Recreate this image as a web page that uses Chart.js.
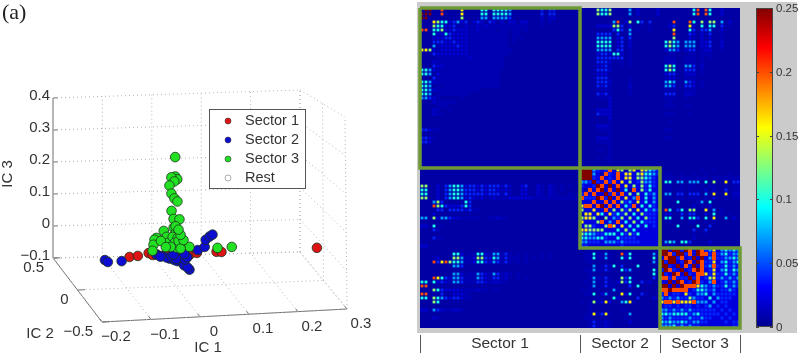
<!DOCTYPE html>
<html>
<head>
<meta charset="utf-8">
<title>Sector scatter and correlation matrix</title>
<script src="https://cdn.jsdelivr.net/npm/chart.js@4"></script>
<style>
  html, body { margin: 0; padding: 0; background: #fff; overflow: hidden; }
  #page { position: relative; width: 800px; height: 356px; }
  #grayPanel { position: absolute; left: 417px; top: 2px; width: 380px; height: 331px; background: #cbcbcb; }
  canvas { position: absolute; top: 0; }
  #scatterCanvas { left: 0; }
  #matrixCanvas { left: 415px; filter: blur(0.6px); }
  #barCanvas { left: 415px; }
</style>
</head>
<body>
<div id="page">
  <div id="grayPanel"></div>
  <canvas id="scatterCanvas" width="410" height="356"></canvas>
  <canvas id="matrixCanvas" width="385" height="356"></canvas>
  <canvas id="barCanvas" width="385" height="356"></canvas>
</div>
<script>
// ---- panel (a): IC values
const ic1Ticks = [-0.2, -0.1, 0, 0.1, 0.2, 0.3];
const ic2Ticks = [-0.5, 0, 0.5];
const ic3Ticks = [-0.1, 0, 0.1, 0.2, 0.3, 0.4];

const sector1Ic1 = [-0.094, -0.077, -0.055, -0.047, -0.037, -0.018, 0.014, 0.028, 0.043, 0.083, 0.093, 0.287];
const sector1Ic2 = [0, 0, 0, 0, 0, 0, 0, 0, 0, 0, 0, 0];
const sector1Ic3 = [-0.012, -0.010, -0.003, -0.009, -0.009, -0.005, -0.009, -0.013, -0.008, -0.007, -0.008, -0.007];

const sector2Ic1 = [-0.144, -0.138, -0.110, -0.044, -0.036, -0.025, -0.018, -0.014, -0.007, -0.008, -0.005, -0.005, 0.006, 0.005, -0.002, -0.029, -0.017, 0.045, 0.059, 0.061, 0.069, 0.075, -0.012, 0.004, 0.012, -0.040, -0.010, 0.012];
const sector2Ic2 = [0, 0, 0, -0.05, -0.08, -0.13, -0.16, -0.18, -0.21, -0.26, -0.34, -0.30, -0.08, -0.03, 0, -0.11, -0.09, 0, 0, 0, 0, 0, -0.14, -0.16, -0.12, -0.09, -0.06, -0.06];
const sector2Ic3 = [-0.018, -0.024, -0.023, 0, 0, 0, 0, 0, 0, 0, 0, 0, 0, 0, 0.003, 0, 0, 0, 0.008, 0.028, 0.037, 0.042, 0, 0, 0, 0, 0, 0];

const sector3Ic1 = [0, 0, 0.004, -0.008, -0.002, -0.012, -0.008, -0.002, 0.004, -0.008, -0.004, 0.008, -0.004, 0, -0.024, -0.039, -0.043, -0.045, -0.047, -0.018, -0.016, -0.006, 0.004, -0.002, 0.012, 0.002, 0.028, 0.085, 0.114, 0.006, -0.010, 0.010, 0.016, -0.030, -0.020, 0.010, 0, 0.006];
const sector3Ic2 = [0, 0, 0, 0, 0, 0, 0, 0, 0, 0, 0, 0, 0, 0, 0, 0, 0, 0, 0, 0, 0, 0, 0, 0, 0, 0, 0, 0, 0, 0, 0, 0, 0, 0, 0, 0, 0, 0];
const sector3Ic3 = [0.266, 0.211, 0.203, 0.209, 0.197, 0.186, 0.163, 0.149, 0.140, 0.114, 0.091, 0.089, 0.066, 0.051, 0.058, 0.039, 0.034, 0.020, 0.003, 0.041, 0.024, 0.040, 0.037, 0.023, 0.017, 0.009, 0.010, 0.004, 0.005, 0.028, 0.012, 0.006, 0.030, 0.030, 0.012, 0.045, 0.070, 0.060];

const legendLabels = ['Sector 1', 'Sector 2', 'Sector 3', 'Rest'];
const legendColors = ['#dc1414', '#0c0cd2', '#22e022', '#ffffff'];

// ---- panel (b): matrix levels, upper triangle, "sector 1|sector 2|sector 3" columns
const sectorNames = ['Sector 1', 'Sector 2', 'Sector 3'];
const sectorEdges = [0, 40, 60, 80];
const levelValues = [0.006, 0.01, 0.022, 0.04, 0.07, 0.1, 0.13, 0.16, 0.2, 0.25];
const colorbarTicks = [0, 0.05, 0.1, 0.15, 0.2, 0.25];
const matrixRows = [
  '0990080000 7000055055 5540000000 3033000000|00006 55600 00402 00002|00000 00058 08500 20000',
  '0990080000 7000055055 5540000000 3033000000|00006 55600 00402 00002|00000 00058 08500 20000',
  '0000000000 6000044044 4430000000 2022000000||',
  '0007655234 2302320320 2022022000 1010000000|00000 00048 02605 30300|00180 00850 61660 40200',
  '0000552231 1211212111 1111111000 1000000000|00002 22266 30200 10100|00230 00720 50550 30100',
  '0000062232 2211211110 1101101000|00000 00035 30401 00100|00070 00530 33400 20000',
  '0000005322 2211111111 1101100000|00003 33303 00400 00000|00080 00320 20300 10000',
  '0000000322 2211111111 1101010000|00004 44402 30300 00000|00060 00210 20200 10000',
  '0000000032 2211111111 1101000000|00005 55502 30200 00000|05654 04440 22300 20000',
  '0000000003 2211111111 1100000000|00005 55502 30200 00000|05654 04440 22300 20000',
  '0000000000 2211111111 1110000000|00004 44403 30100|02443 02330 12200 10000',
  '0000000000 0211111111 1100000000|00002 33255 20100|00110 00110 11100',
  '0000000000 0021111111 1000000000|00003 33333 30100|01110 01110 10100',
  '0000000000 0001111111 1000000000|00003 33200 10100|01220 01110 10000',
  '0000000000 0000111111 1000000000|00002 23100 10100|05650 04430 20000',
  '0000000000 0000011111 0000000000|00003 33200|05650 03330 10000',
  '0000000000 0000001111 0000000000|00002 22000|02330 02220 10000',
  '0000000000 0000000111 0000000000|00003 33100 00100|01220 01110',
  '0000000000 0000000011|00003 33200 00100|04540 04320 10000',
  '0000000000 0000000001|00003 23100 00200|04430 03320 10000',
  '|00001 11100 00100|01110 01110',
  '|00003 23100 00100|03330 02210',
  '|00001 11200|01110 01000',
  '|00000 00200|00100',
  '|00000 00200|01110 01100',
  '|00002 22200|',
  '|00003 22200|01110 00100',
  '|00000 00200|',
  '|00000 00100|00100',
  '|00002 22100|',
  '|00001 11100|01100',
  '|00000 00100|',
  '|00002 22100|01100',
  '|00001 11100|',
  '|00000 00100|',
  '|00001 10100|',
  '|00000 00100|',
  '|00001 01100|',
  '|00000 00100|',
  '|00000 00000|',
  '|99943 23827 61672 76543|00000 00000 10010 00000',
  '|99942 18328 27726 75543|01100 10010 01000 00100',
  '|09932 82328 27726 65432|11110 11101 11011 11111',
  '|00093 28382 72623 64432|05504 40444 05060 07033',
  '|00009 82928 27262 63532|01100 10110 10110 01011',
  '|00000 92829 25182 63522|01101 10101 02020 03011',
  '|00000 09382 82626 25342|04403 30333 04070 07022',
  '|00000 00928 27248 25242|01101 10111 01020 01011',
  '|00000 00082 63427 25242|00005 00001 40500 00000',
  '|00000 00008 25382 52532|00000 00020 10200',
  '|00000 00000 63627 25343|08503 50660 07040 10000',
  '|00000 00000 06252 63332|02200 30330 02050 10100',
  '|00000 00000 00625 26332|05500 40553 05070 04020',
  '|00000 00000 00062 53332|00100 00110 01010',
  '|00000 00000 00005 25232|00005 00005 00300',
  '|00000 42322|00000 00030 03000',
  '|00000 05232|00000 00010 01000',
  '|00000 00422|00000 00020 00000',
  '|00000 00042|04540 55300 00200',
  '|00000 00003|01110',
  '||99299 39829 83472 45454',
  '||09839 93829 88383 45344',
  '||00993 82392 92483 34454',
  '||00092 39829 83372 45345',
  '||00009 28392 83483 35343',
  '||00000 92389 82372 45354',
  '||00000 09328 87373 35343',
  '||00000 00938 23673 43434',
  '||00000 00098 32482 34343',
  '||00000 00007 54343 35343',
  '||00000 00000 54342 33432',
  '||00000 00000 05243 33332',
  '||00000 00000 00524 33322',
  '||00000 00000 00042 33222',
  '||00000 00000 00003 23222',
  '||00000 00000 00000 32322',
  '||00000 00000 00000 03232',
  '||00000 00000 00000 00322',
  '||00000 00000 00000 00033',
  '||00000 00000 00000 00003'
];

// jet colormap anchors: position, r, g, b
const jetStops = [[0, 0, 0, 0.56], [0.125, 0, 0, 1], [0.375, 0, 1, 1], [0.625, 1, 1, 0], [0.875, 1, 0, 0], [1, 0.5, 0, 0]];

const FONT = '"Liberation Sans", Arial, sans-serif';
const TEXT_COLOR = '#333';
const GRID_COLOR = '#b4b4b4';
const AXIS_COLOR = '#6e6e6e';
const BOX_GREEN = '#6d9a34';

// ---- box corners of the 3D view in canvas pixels: [floor, top] for back and front edges
const boxBack = { floor: [[53, 258], [300, 252]], top: [[53, 98], [300, 90]] };
const boxFront = { floor: [[102, 322], [347, 309]], top: [[100, 130], [345, 117]] };

function lerp(a, b, t) { return a + (b - a) * t; }

// IC1, IC2, IC3 -> plotted point, interpolated between the box corners
function project(ic1, ic2, ic3) {
  const u = (ic1 + 0.2) / 0.5;
  const v = 0.5 - ic2;
  const w = (ic3 + 0.1) / 0.5;
  const pick = (edge, axis) => lerp(edge[0][axis], edge[1][axis], u);
  const axisValue = axis => lerp(
    lerp(pick(boxBack.floor, axis), pick(boxBack.top, axis), w),
    lerp(pick(boxFront.floor, axis), pick(boxFront.top, axis), w), v);
  return { x: axisValue(0), y: axisValue(1) };
}

function pointsOf(a, b, c) {
  return a.map((v, i) => project(v, b[i], c[i]));
}

function lineSet(a, b, color, dash) {
  return {
    data: [project(...a), project(...b)], showLine: true, pointRadius: 0,
    borderColor: color, borderWidth: 1, borderDash: dash, order: 10, clip: false
  };
}

// dotted walls and floor, solid axes
function buildBoxLines() {
  const lines = [];
  const dots = [1, 3];
  ic1Ticks.forEach(t => {
    lines.push(lineSet([t, 0.5, -0.1], [t, 0.5, 0.4], GRID_COLOR, dots));
    lines.push(lineSet([t, -0.5, -0.1], [t, 0.5, -0.1], GRID_COLOR, dots));
    lines.push(lineSet([t, -0.5, -0.1], [t, -0.45, -0.1], AXIS_COLOR, []));
  });
  ic2Ticks.forEach(t => {
    lines.push(lineSet([-0.2, t, -0.1], [0.3, t, -0.1], GRID_COLOR, dots));
    lines.push(lineSet([0.3, t, -0.1], [0.3, t, 0.4], GRID_COLOR, dots));
    lines.push(lineSet([-0.2, t, -0.1], [-0.185, t, -0.1], AXIS_COLOR, []));
  });
  ic3Ticks.forEach(t => {
    lines.push(lineSet([-0.2, 0.5, t], [0.3, 0.5, t], GRID_COLOR, dots));
    lines.push(lineSet([0.3, 0.5, t], [0.3, -0.5, t], GRID_COLOR, dots));
    lines.push(lineSet([-0.2, 0.5, t], [-0.19, 0.5, t], AXIS_COLOR, []));
  });
  lines.push(lineSet([-0.2, 0.5, -0.1], [-0.2, 0.5, 0.4], AXIS_COLOR, []));
  lines.push(lineSet([-0.2, 0.5, -0.1], [-0.2, -0.5, -0.1], AXIS_COLOR, []));
  lines.push(lineSet([-0.2, -0.5, -0.1], [0.3, -0.5, -0.1], AXIS_COLOR, []));
  return lines;
}

function tickText(v) {
  return String(v).replace('-', '\u2212');
}

function sectorSet(data, color, order) {
  return {
    data: data, backgroundColor: color, borderColor: '#1c301c', borderWidth: 0.8,
    pointRadius: 4.8, order: order, clip: false
  };
}

// tick labels, axis titles and legend of panel (a)
const scatterTextPlugin = {
  id: 'scatterText',
  afterDraw(chart) {
    const ctx = chart.ctx;
    const sx = chart.scales.x, sy = chart.scales.y;
    const put = (text, pt, dx, dy, align) => {
      ctx.textAlign = align;
      ctx.fillText(text, sx.getPixelForValue(pt.x) + dx, sy.getPixelForValue(pt.y) + dy);
    };
    ctx.save();
    ctx.fillStyle = TEXT_COLOR;
    ctx.textBaseline = 'middle';
    ctx.font = '15px ' + FONT;
    ic1Ticks.forEach(t => put(tickText(t), project(t, -0.5, -0.1), 14, 15, 'center'));
    ic2Ticks.forEach(t => put(tickText(t), project(-0.2, t, -0.1), -9, 9.5, 'right'));
    ic3Ticks.forEach(t => put(tickText(t), project(-0.2, 0.5, t), -3, -2.5, 'right'));
    ctx.textAlign = 'center';
    ctx.fillText('IC 1', 208, 348);
    ctx.fillText('IC 2', 40, 334);
    ctx.save();
    ctx.translate(8, 174);
    ctx.rotate(-Math.PI / 2);
    ctx.fillText('IC 3', 0, 0);
    ctx.restore();

    // legend box
    ctx.fillStyle = '#fff';
    ctx.strokeStyle = '#555';
    ctx.lineWidth = 1;
    ctx.fillRect(209.5, 109.5, 96, 79);
    ctx.strokeRect(209.5, 109.5, 96, 79);
    ctx.font = '14.5px ' + FONT;
    ctx.textAlign = 'left';
    legendLabels.forEach((label, i) => {
      const y = 121 + i * 19;
      ctx.beginPath();
      ctx.arc(228, y, 3, 0, Math.PI * 2);
      ctx.fillStyle = legendColors[i];
      ctx.fill();
      ctx.strokeStyle = i === 3 ? '#777' : '#333';
      ctx.lineWidth = 0.6;
      ctx.stroke();
      ctx.fillStyle = TEXT_COLOR;
      ctx.fillText(label, 245, y);
    });

    ctx.fillStyle = '#222';
    ctx.font = '22px "Liberation Serif", serif';
    ctx.fillText('(a)', 2, 13);
    ctx.restore();
  }
};

new Chart(document.getElementById('scatterCanvas'), {
  type: 'scatter',
  data: {
    datasets: [
      sectorSet(pointsOf(sector3Ic1, sector3Ic2, sector3Ic3), legendColors[2], 1),
      sectorSet(pointsOf(sector2Ic1, sector2Ic2, sector2Ic3), legendColors[1], 2),
      sectorSet(pointsOf(sector1Ic1, sector1Ic2, sector1Ic3), legendColors[0], 3)
    ].concat(buildBoxLines())
  },
  options: {
    responsive: false,
    animation: false,
    layout: { padding: 0, autoPadding: false },
    plugins: { legend: { display: false }, tooltip: { enabled: false } },
    scales: {
      x: { type: 'linear', display: false, min: 0, max: 410 },
      y: { type: 'linear', display: false, min: 0, max: 356, reverse: true }
    }
  },
  plugins: [scatterTextPlugin]
});

// ---- panel (b)
function jetChannels(t) {
  let i = 0;
  while (i < jetStops.length - 2 && t > jetStops[i + 1][0]) i++;
  const a = jetStops[i], b = jetStops[i + 1];
  const f = (t - a[0]) / (b[0] - a[0]);
  return [1, 2, 3].map(k => Math.round(lerp(a[k], b[k], f) * 255));
}

function jetColor(value) {
  const c = jetChannels(Math.min(1, value / 0.25));
  return 'rgb(' + c.join(',') + ')';
}

function sectorOf(index) {
  return index < sectorEdges[1] ? 0 : index < sectorEdges[2] ? 1 : 2;
}

// level 0 is left to the chart area fill, only the other levels become cells
function buildCells() {
  const n = matrixRows.length;
  const grid = [];
  for (let i = 0; i < n; i++) grid.push(new Array(n).fill(0));
  matrixRows.forEach((row, i) => {
    row.split('|').forEach((part, s) => {
      const digits = part.replace(/ /g, '');
      for (let k = 0; k < digits.length; k++) {
        const j = sectorEdges[s] + k;
        if (j >= i) { grid[i][j] = +digits[k]; grid[j][i] = +digits[k]; }
      }
    });
  });
  const cells = [];
  grid.forEach((row, i) => row.forEach((level, j) => {
    if (level > 0) cells.push({ x: j + 0.5, y: i + 0.5, v: levelValues[level] });
  }));
  return cells;
}

function sectorBox(i) {
  const a = sectorEdges[i], b = sectorEdges[i + 1];
  return {
    data: [{ x: a, y: a }, { x: b, y: a }, { x: b, y: b }, { x: a, y: b }, { x: a, y: a }],
    showLine: true, pointRadius: 0, borderColor: BOX_GREEN, borderWidth: 3.5, order: 1, clip: false
  };
}

// red cells and the faint glow fill the whole cell, the rest stay small dots
function cellRadius(c) {
  if (!c.raw || !c.chart.chartArea) return 2;
  const full = c.chart.chartArea.width / matrixRows.length;
  const s = sectorOf(Math.floor(c.raw.x));
  const dense = s > 0 && s === sectorOf(Math.floor(c.raw.y));
  const whole = c.raw.v <= levelValues[1] || (dense && c.raw.v >= levelValues[8]);
  const side = whole ? full + 0.15 : full * (dense ? 0.75 : 0.7);
  return side / Math.SQRT2;
}

const matrixFillPlugin = {
  id: 'matrixFill',
  beforeDatasetsDraw(chart) {
    const a = chart.chartArea;
    const ctx = chart.ctx;
    const sx = chart.scales.x, sy = chart.scales.y;
    ctx.fillStyle = jetColor(levelValues[0]);
    ctx.fillRect(a.left, a.top, a.width, a.height);
    // sector 2 and 3 blocks sit on a brighter blue
    ctx.fillStyle = jetColor(levelValues[2]);
    [1, 2].forEach(i => {
      const x0 = sx.getPixelForValue(sectorEdges[i]), x1 = sx.getPixelForValue(sectorEdges[i + 1]);
      const y0 = sy.getPixelForValue(sectorEdges[i]), y1 = sy.getPixelForValue(sectorEdges[i + 1]);
      ctx.fillRect(x0, y0, x1 - x0, y1 - y0);
    });
  }
};

const matrixChart = new Chart(document.getElementById('matrixCanvas'), {
  type: 'scatter',
  data: {
    datasets: [
      sectorBox(0), sectorBox(1), sectorBox(2),
      {
        data: buildCells(), pointStyle: 'rect', borderWidth: 0, order: 2,
        pointRadius: cellRadius,
        backgroundColor: c => (c.raw ? jetColor(c.raw.v) : '#000')
      }
    ]
  },
  options: {
    responsive: false,
    animation: false,
    layout: { padding: { left: 5, right: 60, top: 8, bottom: 28 }, autoPadding: false },
    plugins: { legend: { display: false }, tooltip: { enabled: false } },
    scales: {
      x: { type: 'linear', display: false, min: 0, max: matrixRows.length },
      y: { type: 'linear', display: false, min: 0, max: matrixRows.length, reverse: true }
    }
  },
  plugins: [matrixFillPlugin]
});

// colorbar frame, ticks and labels, sector brackets and names, panel letter
const barOverlayPlugin = {
  id: 'barOverlay',
  afterDraw(chart) {
    const ctx = chart.ctx;
    const area = chart.chartArea;
    const sy = chart.scales.y;
    const mx = matrixChart.scales.x;
    ctx.save();
    ctx.strokeStyle = '#444';
    ctx.lineWidth = 1;
    ctx.strokeRect(area.left + 0.5, area.top + 0.5, area.width - 1, area.height - 1);
    ctx.fillStyle = TEXT_COLOR;
    ctx.font = '11.5px ' + FONT;
    ctx.textAlign = 'left';
    ctx.textBaseline = 'middle';
    colorbarTicks.forEach(t => {
      const y = Math.round(sy.getPixelForValue(t)) + 0.5;
      ctx.beginPath();
      ctx.moveTo(area.left, y); ctx.lineTo(area.left + 3, y);
      ctx.moveTo(area.right, y); ctx.lineTo(area.right - 3, y);
      ctx.stroke();
      ctx.fillText(String(t), area.right + 3, y);
    });
    ctx.strokeStyle = '#555';
    sectorEdges.forEach(e => {
      const x = Math.round(mx.getPixelForValue(e)) + 0.5;
      ctx.beginPath();
      ctx.moveTo(x, 335); ctx.lineTo(x, 353);
      ctx.stroke();
    });
    ctx.font = '15.5px ' + FONT;
    ctx.textAlign = 'center';
    sectorNames.forEach((name, i) => {
      const x = (mx.getPixelForValue(sectorEdges[i]) + mx.getPixelForValue(sectorEdges[i + 1])) / 2;
      ctx.fillText(name, x, 344);
    });
    ctx.fillStyle = '#222';
    ctx.font = '22px "Liberation Serif", serif';
    ctx.textAlign = 'left';
    ctx.fillText('(b)', -27, 13);
    ctx.restore();
  }
};

new Chart(document.getElementById('barCanvas'), {
  type: 'bar',
  data: {
    labels: ['colorbar'],
    datasets: [{
      data: [[0, 0.25]],
      barPercentage: 1,
      categoryPercentage: 1,
      backgroundColor: c => {
        const area = c.chart.chartArea;
        if (!area) return '#000';
        const g = c.chart.ctx.createLinearGradient(0, area.bottom, 0, area.top);
        jetStops.forEach(s => g.addColorStop(s[0], 'rgb(' + jetChannels(s[0]).join(',') + ')'));
        return g;
      }
    }]
  },
  options: {
    responsive: false,
    animation: false,
    layout: { padding: { left: 341, right: 27, top: 8, bottom: 29 }, autoPadding: false },
    plugins: { legend: { display: false }, tooltip: { enabled: false } },
    scales: {
      x: { display: false },
      y: { display: false, min: 0, max: 0.25 }
    }
  },
  plugins: [barOverlayPlugin]
});
</script>
</body>
</html>
